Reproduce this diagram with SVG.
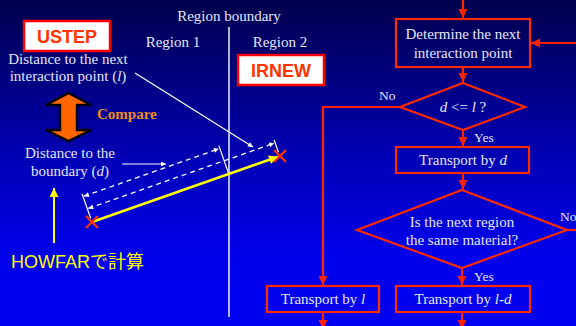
<svg xmlns="http://www.w3.org/2000/svg" width="576" height="326" viewBox="0 0 576 326">
<defs>
<linearGradient id="bg" x1="0" y1="0" x2="0" y2="1">
<stop offset="0" stop-color="#00004c"/>
<stop offset="0.5" stop-color="#0000b8"/>
<stop offset="0.78" stop-color="#0000ea"/>
<stop offset="1" stop-color="#0000f2"/>
</linearGradient>
<marker id="ar" viewBox="0 0 10 10" refX="10" refY="5" markerWidth="9" markerHeight="10" markerUnits="userSpaceOnUse" orient="auto">
<path d="M0,0 L10,5 L0,10 z" fill="#ff2200"/>
</marker>
<marker id="ay" viewBox="0 0 10 10" refX="10" refY="5" markerWidth="9" markerHeight="9" markerUnits="userSpaceOnUse" orient="auto">
<path d="M0,0 L10,5 L0,10 z" fill="#ffff00"/>
</marker>
<marker id="aw" viewBox="0 0 10 10" refX="10" refY="5" markerWidth="6" markerHeight="5" markerUnits="userSpaceOnUse" orient="auto-start-reverse">
<path d="M0,0 L10,5 L0,10 z" fill="#ffffff"/>
</marker>
</defs>
<style>
.t{font-family:"Liberation Serif","Times New Roman",serif;font-size:15px;fill:#e6e6f8;text-anchor:middle}
.s{font-family:"Liberation Serif","Times New Roman",serif;font-size:13.5px;fill:#e6e6f8}
.i{font-style:italic}
.box{fill:none;stroke:#ff2a00;stroke-width:2.2}
.flow{fill:none;stroke:#ff2200;stroke-width:2.2}
.lbl{fill:#ffffff;stroke:#ff0000;stroke-width:2.5}
.lt{font-family:"Liberation Sans",Arial,sans-serif;font-weight:bold;font-size:18px;fill:#ff3300;text-anchor:middle}
.dash{fill:none;stroke:#ffffff;stroke-width:1.3;stroke-dasharray:5 4}
.wl{fill:none;stroke:#ffffff;stroke-width:1.2}
.x{stroke:#ff3300;stroke-width:2.2}
</style>
<rect width="576" height="326" fill="url(#bg)"/>

<!-- left illustration -->
<g id="regions">
<line x1="229" y1="27" x2="229" y2="317" stroke="#ffffff" stroke-width="1.4"/>
<text class="t" x="229" y="21">Region boundary</text>
<text class="t" x="173" y="47">Region 1</text>
<text class="t" x="280" y="47">Region 2</text>
</g>
<g id="ustep">
<rect class="lbl" x="24" y="21" width="86" height="30"/>
<text class="lt" x="67" y="43">USTEP</text>
</g>
<g id="irnew">
<rect class="lbl" x="238" y="55" width="86" height="30"/>
<text class="lt" x="281" y="77">IRNEW</text>
</g>
<g id="label-l">
<text class="t" x="68" y="64">Distance to the next</text>
<text class="t" x="68" y="81">interaction point (<tspan class="i">l</tspan>)</text>
</g>
<g id="compare">
<polygon points="68.5,93 91,105 77,105 77,130 91,130 68.5,141 46,130 60,130 60,105 46,105" fill="#ff6600" stroke="#000000" stroke-width="2.5" stroke-linejoin="miter"/>
<text x="97" y="119" font-family="Liberation Serif,'Times New Roman',serif" font-weight="bold" font-size="15" fill="#f08a1c">Compare</text>
</g>
<g id="label-d">
<text class="t" x="70" y="158">Distance to the</text>
<text class="t" x="70" y="176">boundary (<tspan class="i">d</tspan>)</text>
</g>
<g id="howfar">
<text x="11" y="268" font-family="'Liberation Sans','Noto Sans CJK JP',sans-serif" font-size="18" fill="#ffff00">HOWFARで計算</text>
</g>
<g id="track">
<g transform="translate(92,222) rotate(-19.35)">
<line class="dash" x1="1" y1="-27" x2="144" y2="-27" marker-start="url(#aw)" marker-end="url(#aw)"/>
<line class="dash" x1="1" y1="-14" x2="198" y2="-14" marker-start="url(#aw)" marker-end="url(#aw)"/>
<line class="wl" x1="0" y1="-30" x2="0" y2="-4"/>
<line class="wl" x1="145" y1="-30" x2="145" y2="0"/>
<line class="wl" x1="199" y1="-17" x2="199" y2="-4"/>
<line x1="0" y1="0" x2="197" y2="0" stroke="#ffff00" stroke-width="2.6" marker-end="url(#ay)"/>
</g>
<path class="x" d="M86,216 L98,228 M98,216 L86,228"/>
<path class="x" d="M274,150 L286,162 M286,150 L274,162"/>
</g>

<!-- left connectors -->
<g id="pointers">
<line class="wl" x1="135" y1="73" x2="253" y2="147" marker-end="url(#aw)"/>
<line class="wl" x1="122" y1="164" x2="166" y2="164" marker-end="url(#aw)"/>
<line x1="54" y1="243" x2="54" y2="188" stroke="#ffff00" stroke-width="2" marker-end="url(#ay)"/>
</g>

<!-- flowchart nodes -->
<g id="determine">
<rect class="box" x="396" y="19" width="134" height="48"/>
<text class="t" x="463" y="39">Determine the next</text>
<text class="t" x="463" y="58">interaction point</text>
</g>
<g id="cond1">
<polygon class="box" points="463,83 525,107 463,130 400,107"/>
<text class="t" x="463" y="112"><tspan class="i">d</tspan> &lt;= <tspan class="i">l</tspan> ?</text>
</g>
<g id="transport-d">
<rect class="box" x="396" y="147" width="133" height="26"/>
<text class="t" x="463" y="165">Transport by <tspan class="i">d</tspan></text>
</g>
<g id="cond2">
<polygon class="box" points="462,190 567,230 462,268 357,230"/>
<text class="t" x="462" y="227">Is the next region</text>
<text class="t" x="462" y="245">the same material?</text>
</g>
<g id="transport-l">
<rect class="box" x="267" y="286" width="112" height="26"/>
<text class="t" x="323" y="304">Transport by <tspan class="i">l</tspan></text>
</g>
<g id="transport-ld">
<rect class="box" x="396" y="286" width="134" height="26"/>
<text class="t" x="463" y="304">Transport by <tspan class="i">l-d</tspan></text>
</g>

<!-- flowchart connectors -->
<g id="connectors">
<line class="flow" x1="463" y1="0" x2="463" y2="18" marker-end="url(#ar)"/>
<line class="flow" x1="576" y1="43" x2="531" y2="43" marker-end="url(#ar)"/>
<line class="flow" x1="463" y1="67" x2="463" y2="82" marker-end="url(#ar)"/>
<line class="flow" x1="463" y1="130" x2="463" y2="146" marker-end="url(#ar)"/>
<line class="flow" x1="463" y1="173" x2="463" y2="189" marker-end="url(#ar)"/>
<line class="flow" x1="462" y1="268" x2="462" y2="285" marker-end="url(#ar)"/>
<polyline class="flow" points="400,107 323,107 323,285" marker-end="url(#ar)"/>
<line class="flow" x1="567" y1="230" x2="576" y2="230"/>
<line class="flow" x1="323" y1="312" x2="323" y2="329" marker-end="url(#ar)"/>
<line class="flow" x1="462" y1="312" x2="462" y2="329" marker-end="url(#ar)"/>
<text class="s" x="379" y="100">No</text>
<text class="s" x="474" y="142">Yes</text>
<text class="s" x="474" y="281">Yes</text>
<text class="s" x="560" y="221">No</text>
</g>
</svg>
